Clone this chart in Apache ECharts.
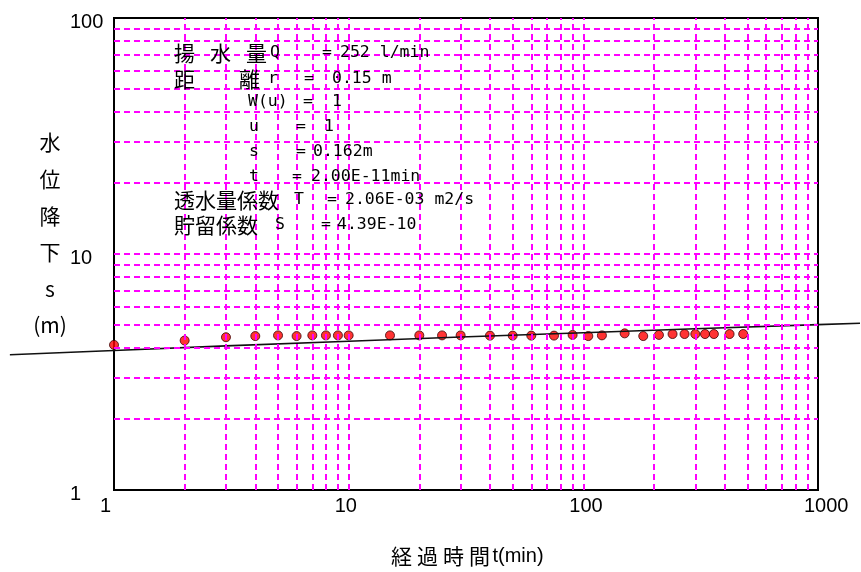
<!DOCTYPE html>
<html><head><meta charset="utf-8">
<script src="https://cdn.jsdelivr.net/npm/echarts@6/dist/echarts.min.js"></script>
<style>html,body{margin:0;padding:0;background:#fff}#chart{width:861px;height:572px}</style>
</head><body><div id="chart"></div>
<script>
// Elapsed time of each reading (min)
const elapsedMin = [1,2,3,4,5,6,7,8,9,10,15,20,25,30,40,50,60,75,90,105,120,150,180,210,240,270,300,330,360,420,480];
// Observed drawdown s (m)
const drawdownM = [4.12,4.30,4.44,4.49,4.52,4.49,4.52,4.52,4.52,4.52,4.52,4.52,4.52,4.52,4.51,4.51,4.51,4.51,4.54,4.49,4.52,4.61,4.49,4.54,4.58,4.58,4.58,4.58,4.58,4.58,4.58];
// Fitted type curve, sampled (min, m); it runs past both ends of the plot
const curveT = [0.36,1,3,10,30,100,300,1000,1510];
const curveS = [3.74,3.90,4.08,4.27,4.45,4.64,4.82,5.02,5.09];
// Decade tick labels
const xTickLabels = ['1','10','100','1000'];
const yTickLabels = ['1','10','100'];
// Dashed grid positions inside each decade
const xGridValues = [2,3,4,5,6,7,8,9,10,20,30,40,50,60,70,80,90,100,200,300,400,500,600,700,800,900];
const yGridValues = [2,3,4,5,6,7,8,9,10,20,30,40,50,60,70,80,90];
// Pumping test parameters
const pumpRate = '252 l/min';
const wellDist = '0.15 m';
const matchW = '1';
const matchU = '1';
const matchS = '0.162m';
const matchT = '2.00E-11min';
const transmissivity = '2.06E-03 m2/s';
const storativity = '4.39E-10';

// Plot frame
const W = 861, H = 572;
const G = {left:114, right:43, top:18, bottom:82};
const X_MIN = 1, X_MAX = 1000, Y_MIN = 1, Y_MAX = 100;
// Wider, invisible frame for the type curve, sharing the main frame's log scale
const G2 = {left:10, right:1, top:G.top, bottom:G.bottom};
const plotW = W - G.left - G.right;
const decPerPx = (Math.log10(X_MAX) - Math.log10(X_MIN)) / plotW;
const X2_MIN = Math.pow(10, Math.log10(X_MIN) - (G.left - G2.left) * decPerPx);
const X2_MAX = Math.pow(10, Math.log10(X_MAX) + (G.right - G2.right) * decPerPx);

const CJK = '21px "Noto Sans CJK JP"';
const LAT = '16.5px "DejaVu Sans Mono"';

const infoRows = [
  [53,  [[174,'揚',CJK],[210,'水',CJK],[246,'量',CJK],[270,'Q',LAT],[322,'=',LAT],[340,pumpRate,LAT]]],
  [79,  [[174,'距',CJK],[239,'離',CJK],[268,'r',LAT],[304,'=',LAT],[332,wellDist,LAT]]],
  [102, [[248,'W(u)',LAT],[303,'=',LAT],[332,matchW,LAT]]],
  [127, [[249,'u',LAT],[296,'=',LAT],[324,matchU,LAT]]],
  [152, [[249,'s',LAT],[296,'=',LAT],[313,matchS,LAT]]],
  [177, [[249,'t',LAT],[292,'=',LAT],[311,matchT,LAT]]],
  [200, [[174,'透水量係数',CJK],[294,'T',LAT],[327,'=',LAT],[345,transmissivity,LAT]]],
  [225, [[174,'貯留係数',CJK],[275,'S',LAT],[321,'=',LAT],[337,storativity,LAT]]]
];

const graphics = [];
infoRows.forEach(([y, parts]) => {
  parts.forEach(([x, text, font]) => {
    graphics.push({type:'text', x:x, y:y, z:10, silent:true,
      style:{text:text, font:font, fill:'#000', verticalAlign:'middle', align:'left'}});
  });
});
graphics.push({type:'text', x:50, y:234, silent:true,
  style:{text:'水\n位\n降\n下\ns\n(m)', font:'21px "Noto Sans CJK JP"', fill:'#000',
         align:'center', verticalAlign:'middle', lineHeight:36.6}});

const labelOf = list => v => list.find(l => Math.abs(Number(l) - v) < 1e-6) || '';

const chart = echarts.init(document.getElementById('chart'));
chart.setOption({
  animation:false,
  backgroundColor:'#fff',
  grid:[
    {left:G.left, right:G.right, top:G.top, bottom:G.bottom, show:true, borderColor:'#000', borderWidth:2, backgroundColor:'transparent'},
    {left:G2.left, right:G2.right, top:G2.top, bottom:G2.bottom, show:false}
  ],
  xAxis:[{
    type:'log', logBase:10, min:X_MIN, max:X_MAX, gridIndex:0,
    name:'{c|経}{c|過}{c|時}{c|間}{l|t(min)}', nameLocation:'middle', nameGap:56,
    nameTextStyle:{color:'#000', rich:{
      c:{fontFamily:'"Noto Sans CJK JP"', fontSize:21, padding:[0,2.5,0,2.5], color:'#000'},
      l:{fontFamily:'"Liberation Sans"', fontSize:20, color:'#000'}
    }},
    axisLine:{show:true, lineStyle:{color:'#000', width:2}},
    axisTick:{show:false}, splitLine:{show:false}, minorSplitLine:{show:false},
    axisLabel:{color:'#000', fontFamily:'"Liberation Sans"', fontSize:20, margin:6, align:'left',
      padding:[0,0,0,-14], formatter:labelOf(xTickLabels)}
  },{
    type:'log', logBase:10, min:X2_MIN, max:X2_MAX, gridIndex:1, show:false
  }],
  yAxis:[{
    type:'log', logBase:10, min:Y_MIN, max:Y_MAX, gridIndex:0,
    axisLine:{show:true, lineStyle:{color:'#000', width:2}},
    axisTick:{show:false}, splitLine:{show:false}, minorSplitLine:{show:false},
    axisLabel:{color:'#000', fontFamily:'"Liberation Sans"', fontSize:20, margin:44, align:'left',
      verticalAlign:'top', lineHeight:9, formatter:labelOf(yTickLabels)}
  },{
    type:'log', logBase:10, min:Y_MIN, max:Y_MAX, gridIndex:1, show:false
  }],
  graphic:graphics,
  series:[
    {
      type:'line', data:[], z:1, silent:true,
      markLine:{
        silent:true, symbol:['none','none'], label:{show:false}, animation:false,
        lineStyle:{color:'#ff00ff', type:[6,4], width:2},
        emphasis:{disabled:true},
        data:[...xGridValues.map(v => ({xAxis:v})), ...yGridValues.map(v => ({yAxis:v}))]
      }
    },
    {
      type:'scatter', z:3, symbol:'circle', symbolSize:9,
      itemStyle:{color:'#ff0000', borderColor:'#3a0000', borderWidth:1},
      data:elapsedMin.map((t, i) => [t, drawdownM[i]])
    },
    {
      type:'line', z:4, xAxisIndex:1, yAxisIndex:1, symbol:'none', smooth:false, silent:true,
      lineStyle:{color:'#111', width:1.6},
      data:curveT.map((t, i) => [t, curveS[i]])
    }
  ]
});
</script>
</body></html>
